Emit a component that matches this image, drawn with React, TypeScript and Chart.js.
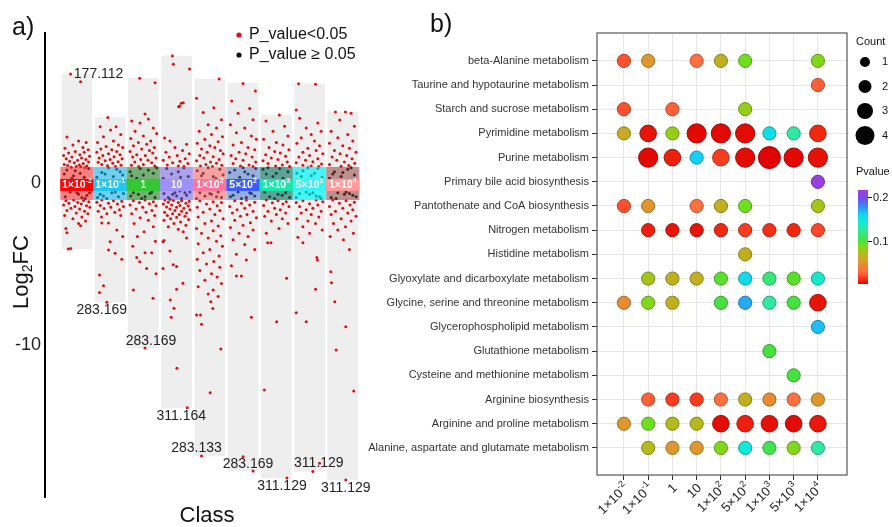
import React, { useEffect, useRef } from "react";
import { Chart, registerables } from "chart.js";

Chart.register(...registerables);

const FONT = "'Liberation Sans', Arial, Helvetica, sans-serif";

// ---------------- Panel a data ----------------
const classBase = ["1×10", "1×10", "1", "10", "1×10", "5×10", "1×10", "5×10", "1×10"];
const classSup = ["-2", "-1", "", "", "2", "2", "3", "3", "4"];
const yTicksA = [0, -10];
const bandOuter = [-1.05, 0.99];
const bandInner = [-0.49, 0.25];

// [jitter, log2FC] for P_value < 0.05
const cls1Red = [[-0.19,6.73],[0.11,6.25],[-0.30,2.84],[0.05,2.6],[0.28,2.5],[-0.12,2.35],[0.18,2.2],[-0.36,2.15],[0.34,2.05],[-0.05,1.95],[0.22,1.9],[-0.25,1.85],[0.09,1.75],[-0.40,1.7],[0.38,1.65],[-0.15,1.6],[0.14,1.55],[-0.32,1.5],[0.27,1.45],[0.02,1.4],[-0.22,1.35],[0.35,1.3],[-0.08,1.25],[0.19,1.2],[-0.38,1.15],[0.07,1.12],[-0.28,1.08],[0.30,1.05],[-0.02,1.02],[0.12,1.0],[-0.17,0.98],[0.24,0.96],
  [-0.10,-1.05],[0.20,-1.08],[-0.33,-1.1],[0.36,-1.15],[0.03,-1.2],[-0.24,-1.25],[0.13,-1.3],[-0.40,-1.35],[0.29,-1.4],[-0.06,-1.45],[0.39,-1.5],[-0.18,-1.55],[0.08,-1.6],[-0.30,-1.7],[0.23,-1.75],[-0.02,-1.85],[0.33,-1.9],[-0.37,-2.0],[0.15,-2.1],[-0.12,-2.2],[0.26,-2.35],[-0.33,-2.8],[-0.30,-3.07],[0.11,-2.63],[-0.26,-4.07],[-0.19,-4.04],[0.05,-2.5]];
const cls2Red = [[-0.07,4.05],[-0.30,3.48],[0.18,3.48],[0.01,3.27],[0.32,3.0],[-0.20,2.85],[0.10,2.6],[-0.38,2.5],[0.25,2.35],[-0.12,2.25],[0.38,2.2],[-0.28,2.1],[0.05,2.05],[0.20,1.95],[-0.40,1.9],[-0.05,1.8],[0.30,1.75],[-0.22,1.7],[0.12,1.62],[-0.33,1.55],[0.36,1.5],[0.0,1.45],[-0.15,1.38],[0.24,1.32],[-0.36,1.28],[0.08,1.22],[-0.25,1.15],[0.33,1.1],[-0.08,1.06],[0.16,1.02],
  [-0.25,-1.05],[0.10,-1.1],[0.35,-1.12],[-0.40,-1.18],[-0.05,-1.25],[0.22,-1.3],[-0.30,-1.38],[0.40,-1.45],[0.02,-1.5],[-0.18,-1.58],[0.28,-1.65],[-0.36,-1.75],[0.14,-1.8],[-0.10,-1.9],[0.32,-2.0],[-0.26,-2.1],[-0.25,-2.47],[-0.05,-2.47],[0.0,-3.62],[-0.05,-4.14],[0.15,-4.33],[0.35,-4.7],[-0.32,-5.68],[-0.20,-6.34],[-0.32,-6.75],[-0.10,-7.36],[0.20,-2.9],[0.38,-3.3]];
const cls3Red = [[-0.11,6.46],[0.35,6.19],[0.05,4.26],[-0.35,3.83],[-0.10,3.7],[0.15,3.95],[0.30,3.4],[-0.25,3.2],[0.40,3.05],[0.0,2.9],[-0.38,2.75],[0.22,2.6],[-0.15,2.5],[0.10,2.4],[-0.30,2.3],[0.33,2.2],[-0.05,2.1],[0.18,2.0],[-0.40,1.95],[0.28,1.85],[-0.20,1.75],[0.06,1.7],[-0.32,1.6],[0.38,1.55],[-0.08,1.45],[0.14,1.4],[-0.26,1.3],[0.25,1.25],[0.0,1.15],[-0.36,1.1],[0.34,1.05],[-0.14,1.02],
  [0.05,-1.05],[-0.30,-1.1],[0.30,-1.15],[-0.12,-1.2],[0.18,-1.28],[-0.40,-1.35],[0.38,-1.4],[-0.02,-1.5],[-0.22,-1.6],[0.26,-1.7],[0.08,-1.8],[-0.35,-1.9],[0.34,-2.0],[-0.10,-2.15],[0.15,-2.3],[-0.28,-2.5],[0.30,-2.7],[0.02,-3.0],[-0.18,-3.3],[0.36,-3.6],[-0.32,-3.9],[0.05,-4.3],[0.25,-4.3],[-0.11,-4.86],[0.10,-5.27],[-0.30,-6.6],[0.29,-7.12],[0.05,-10.19],[-0.20,-4.6],[0.38,-5.6]];
const cls4Red = [[-0.13,7.84],[0.39,7.04],[-0.10,7.33],[0.14,4.92],[0.09,4.75],[0.20,4.96],[0.06,4.71],[-0.36,2.78],[-0.20,2.6],[0.30,2.4],[-0.05,2.2],[0.18,2.0],[-0.32,1.9],[0.38,1.8],[0.02,1.7],[-0.22,1.6],[0.26,1.5],[-0.40,1.4],[0.10,1.35],[-0.12,1.25],[0.34,1.2],[-0.28,1.12],[0.05,1.05],[0.22,1.02],
  [-0.35,-1.05],[-0.10,-1.08],[0.15,-1.1],[0.38,-1.12],[-0.25,-1.18],[0.05,-1.2],[0.28,-1.25],[-0.40,-1.3],[-0.15,-1.35],[0.10,-1.38],[0.35,-1.42],[-0.30,-1.48],[0.0,-1.5],[0.22,-1.55],[-0.20,-1.6],[0.40,-1.65],[-0.05,-1.7],[0.15,-1.75],[-0.36,-1.8],[0.30,-1.85],[-0.12,-1.9],[0.08,-1.95],[-0.28,-2.0],[0.25,-2.05],[0.0,-2.12],[-0.18,-2.2],[0.36,-2.25],[-0.38,-2.3],[0.12,-2.4],[-0.08,-2.5],[0.28,-2.6],[-0.25,-2.7],[0.05,-2.85],[0.20,-3.0],[-0.41,-3.62],[-0.38,-3.55],[0.0,-5.16],[-0.10,-5.05],[-0.41,-5.27],[0.19,-6.19],[0.0,-6.56],[-0.19,-7.22],[-0.08,-7.73],[-0.16,-8.29],[0.01,-11.44],[0.32,-13.87],[0.30,-3.4],[-0.20,-4.2]];
const cls5Red = [[0.28,6.42],[-0.40,5.23],[0.12,4.65],[-0.20,4.36],[0.35,3.9],[-0.05,3.6],[0.20,3.4],[-0.32,3.2],[0.05,3.0],[0.38,2.85],[-0.15,2.7],[0.25,2.55],[-0.38,2.45],[0.0,2.3],[0.15,2.2],[-0.25,2.1],[0.32,2.0],[-0.08,1.9],[0.40,1.8],[-0.30,1.7],[0.10,1.62],[-0.18,1.55],[0.28,1.45],[-0.40,1.38],[0.02,1.3],[0.20,1.22],[-0.12,1.15],[0.36,1.1],[-0.28,1.05],[0.08,1.02],
  [-0.30,-1.1],[0.10,-1.15],[0.35,-1.2],[-0.10,-1.3],[0.22,-1.4],[-0.38,-1.5],[0.0,-1.6],[0.30,-1.7],[-0.20,-1.8],[0.15,-1.95],[-0.35,-2.1],[0.40,-2.2],[0.05,-2.35],[-0.15,-2.5],[0.25,-2.65],[-0.40,-2.8],[0.10,-2.95],[-0.25,-3.1],[0.33,-3.25],[-0.05,-3.4],[0.20,-3.6],[-0.35,-3.75],[0.38,-3.9],[0.0,-4.1],[-0.20,-4.3],[0.28,-4.5],[-0.38,-4.7],[0.12,-4.85],[-0.10,-5.0],[0.30,-5.2],[-0.30,-5.4],[0.05,-5.6],[0.22,-5.8],[-0.15,-6.0],[0.35,-6.2],[-0.35,-6.4],[0.10,-6.6],[-0.05,-6.85],[0.25,-7.0],[0.03,-7.33],[0.09,-7.74],[-0.40,-8.15],[-0.28,-8.15],[-0.25,-8.72],[0.33,-10.25],[0.01,-12.94],[-0.25,-16.85]];
const cls6Red = [[0.0,6.15],[0.37,5.68],[-0.34,5.06],[0.20,4.6],[-0.15,4.3],[0.30,3.9],[-0.38,3.6],[0.05,3.4],[-0.20,3.1],[0.25,2.9],[0.40,2.7],[-0.05,2.5],[-0.30,2.35],[0.15,2.2],[0.35,2.05],[-0.12,1.9],[0.08,1.8],[-0.36,1.7],[0.27,1.6],[-0.22,1.5],[0.0,1.4],[0.38,1.3],[-0.30,1.2],[0.18,1.12],[-0.08,1.05],[0.30,1.02],
  [0.10,-1.05],[-0.25,-1.1],[0.35,-1.18],[-0.05,-1.25],[0.20,-1.35],[-0.40,-1.45],[0.05,-1.55],[-0.18,-1.65],[0.30,-1.75],[-0.32,-1.85],[0.12,-1.95],[-0.08,-2.05],[0.40,-2.15],[-0.25,-2.3],[0.22,-2.45],[0.0,-2.6],[-0.38,-2.75],[0.30,-2.9],[-0.12,-3.1],[0.15,-3.3],[-0.30,-3.5],[0.05,-3.8],[0.35,-4.1],[-0.20,-4.4],[0.10,-4.75],[-0.20,-5.74],[-0.05,-5.74],[0.25,-8.29],[0.0,-16.9],[0.30,-17.78],[-0.35,-5.1]];
const cls7Red = [[0.09,4.2],[-0.31,3.83],[0.25,3.5],[-0.10,3.2],[0.35,2.9],[-0.38,2.7],[0.0,2.5],[0.20,2.35],[-0.22,2.2],[0.38,2.05],[-0.05,1.95],[0.12,1.85],[-0.32,1.75],[0.28,1.65],[-0.15,1.55],[0.05,1.45],[-0.40,1.38],[0.33,1.3],[-0.25,1.2],[0.18,1.12],[-0.02,1.05],[0.40,1.02],
  [-0.30,-1.05],[0.05,-1.1],[0.30,-1.15],[-0.12,-1.22],[0.20,-1.3],[-0.38,-1.38],[0.38,-1.45],[-0.05,-1.55],[0.12,-1.65],[-0.25,-1.75],[0.28,-1.85],[0.0,-1.95],[-0.35,-2.05],[0.18,-2.2],[-0.15,-2.35],[0.35,-2.5],[-0.26,-3.68],[-0.16,-3.68],[0.31,-5.88],[0.01,-8.56],[-0.36,-12.78],[0.32,-18.2],[0.08,-2.8],[-0.30,-3.1]];
const cls8Red = [[-0.33,6.13],[0.18,6.09],[-0.40,4.5],[-0.30,4.0],[0.25,3.7],[-0.10,3.4],[0.35,3.2],[0.05,3.0],[-0.25,2.8],[0.15,2.6],[-0.38,2.45],[0.30,2.3],[-0.05,2.15],[0.20,2.0],[-0.20,1.9],[0.40,1.8],[0.0,1.7],[-0.32,1.6],[0.25,1.5],[-0.12,1.4],[0.10,1.32],[-0.40,1.25],[0.36,1.18],[-0.20,1.1],[0.05,1.05],[0.28,1.02],
  [0.20,-1.05],[-0.20,-1.1],[0.40,-1.15],[-0.40,-1.2],[0.0,-1.28],[0.25,-1.35],[-0.30,-1.45],[0.10,-1.55],[-0.10,-1.65],[0.35,-1.75],[-0.25,-1.85],[0.05,-1.95],[0.28,-2.1],[-0.38,-2.2],[-0.05,-2.35],[0.18,-2.5],[-0.20,-2.7],[0.38,-2.9],[0.0,-3.1],[-0.35,-3.35],[-0.20,-3.68],[0.24,-4.75],[0.22,-4.6],[0.18,-6.56],[-0.40,-8.0],[-0.10,-8.56],[0.30,-17.3],[0.10,-17.8]];
const cls9Red = [[-0.22,4.38],[0.08,4.38],[0.25,4.3],[-0.09,3.89],[0.35,3.5],[-0.35,3.2],[0.15,3.0],[-0.15,2.8],[0.30,2.6],[-0.40,2.45],[0.0,2.3],[0.20,2.15],[-0.25,2.0],[0.40,1.9],[-0.08,1.8],[0.12,1.7],[-0.32,1.6],[0.28,1.5],[-0.18,1.4],[0.05,1.3],[0.36,1.22],[-0.40,1.15],[0.18,1.08],[-0.05,1.03],
  [-0.30,-1.05],[0.10,-1.1],[0.35,-1.18],[-0.10,-1.25],[0.22,-1.35],[-0.40,-1.45],[0.0,-1.55],[0.30,-1.65],[-0.22,-1.75],[0.15,-1.85],[-0.35,-1.95],[0.40,-2.05],[-0.05,-2.2],[0.25,-2.35],[-0.28,-2.5],[0.08,-2.7],[-0.15,-2.9],[0.32,-3.1],[-0.38,-3.3],[0.02,-3.5],[-0.36,-5.47],[-0.34,-6.15],[-0.24,-7.33],[-0.20,-10.3],[0.09,-8.87],[0.33,-12.84],[0.09,-18.33],[0.20,-4.1]];

// [jitter, log2FC] for P_value >= 0.05
const cls1Black = [[-0.3,0.8],[0.1,0.6],[0.35,0.9],[-0.1,0.45],[0.22,0.35],[-0.38,0.55],[0.0,-0.6],[0.3,-0.75],[-0.2,-0.55],[0.15,-0.9],[-0.35,-0.85],[0.38,-0.6],[-0.05,0.75],[0.25,-0.95],[-0.15,0.3],[0.05,-0.7]];
const cls2Black = [[0.2,0.85],[-0.25,0.65],[0.38,0.5],[-0.05,0.95],[0.1,0.4],[-0.4,0.35],[0.3,0.7],[-0.15,0.55],[0.05,-0.6],[-0.3,-0.7],[0.25,-0.85],[-0.1,-0.95],[0.4,-0.65],[-0.38,-0.9],[0.15,-0.55],[-0.2,-0.8]];
const cls3Black = [[-0.1,0.9],[0.3,0.6],[-0.35,0.45],[0.15,0.8],[-0.2,0.3],[0.4,0.95],[0.0,0.5],[-0.4,0.7],[0.25,-0.55],[-0.15,-0.7],[0.35,-0.9],[-0.3,-0.6],[0.05,-0.85],[0.2,-0.65],[-0.05,-0.95],[-0.38,-0.8]];
const cls4Black = [[0.05,0.7],[-0.3,0.9],[0.35,0.4],[-0.15,0.55],[0.22,0.95],[-0.4,0.3],[0.12,0.35],[-0.05,-0.6],[0.3,-0.75],[-0.25,-0.9],[0.4,-0.55],[-0.38,-0.65],[0.15,-0.95],[0.0,-0.8],[-0.12,-0.7],[0.25,-0.6],[-0.2,-1.0],[0.1,-0.5]];
const cls5Black = [[0.3,0.85],[-0.2,0.6],[0.1,0.4],[-0.38,0.75],[0.4,0.5],[-0.05,0.95],[0.18,0.3],[-0.3,-0.6],[0.05,-0.7],[0.35,-0.9],[-0.15,-0.8],[0.25,-0.55],[-0.4,-0.95],[0.0,-0.65],[-0.25,0.45],[0.2,-0.85]];
const cls6Black = [[-0.25,0.8],[0.15,0.55],[0.38,0.9],[-0.1,0.35],[0.3,0.45],[-0.4,0.65],[0.0,0.95],[0.2,-0.6],[-0.3,-0.75],[0.1,-0.9],[-0.15,-0.55],[0.35,-0.8],[-0.05,-0.95],[0.25,-0.65],[-0.38,-0.85],[0.05,0.7]];
const cls7Black = [[0.1,0.9],[-0.3,0.55],[0.35,0.7],[-0.1,0.4],[0.2,0.3],[-0.4,0.85],[0.0,0.6],[0.28,-0.6],[-0.2,-0.85],[0.05,-0.7],[-0.35,-0.55],[0.4,-0.9],[-0.05,-0.95],[0.18,-0.75],[-0.25,0.95],[0.3,-0.5]];
const cls8Black = [[-0.2,0.75],[0.25,0.9],[0.05,0.45],[-0.38,0.6],[0.38,0.35],[-0.05,0.95],[0.15,0.6],[-0.3,-0.65],[0.2,-0.8],[-0.1,-0.55],[0.35,-0.95],[0.0,-0.7],[-0.4,-0.9],[0.1,-0.6],[-0.25,0.4],[0.3,-0.85]];
const cls9Black = [[0.15,0.85],[-0.25,0.7],[0.35,0.5],[-0.05,0.4],[0.25,0.95],[-0.4,0.3],[0.0,0.65],[-0.15,-0.6],[0.3,-0.75],[-0.35,-0.9],[0.1,-0.55],[0.4,-0.85],[-0.2,-0.95],[0.05,-0.7],[-0.3,0.55],[0.2,-0.65]];

const classRed = [cls1Red, cls2Red, cls3Red, cls4Red, cls5Red, cls6Red, cls7Red, cls8Red, cls9Red];
const classBlack = [cls1Black, cls2Black, cls3Black, cls4Black, cls5Black, cls6Black, cls7Black, cls8Black, cls9Black];

const extremeLabels = ["177.112", "283.169", "283.169", "311.164", "283.133", "283.169", "311.129", "311.129", "311.129"];
const labelAtMax = [true, false, false, false, false, false, false, false, false];

// ---------------- Panel b data ----------------
const pathways = [
  "beta-Alanine metabolism",
  "Taurine and hypotaurine metabolism",
  "Starch and sucrose metabolism",
  "Pyrimidine metabolism",
  "Purine metabolism",
  "Primary bile acid biosynthesis",
  "Pantothenate and CoA biosynthesis",
  "Nitrogen metabolism",
  "Histidine metabolism",
  "Glyoxylate and dicarboxylate metabolism",
  "Glycine, serine and threonine metabolism",
  "Glycerophospholipid metabolism",
  "Glutathione metabolism",
  "Cysteine and methionine metabolism",
  "Arginine biosynthesis",
  "Arginine and proline metabolism",
  "Alanine, aspartate and glutamate metabolism",
];
const countGrid = [
  [1, 1, 0, 1, 1, 1, 0, 0, 1],
  [0, 0, 0, 0, 0, 0, 0, 0, 1],
  [1, 0, 1, 0, 0, 1, 0, 0, 0],
  [1, 2, 1, 3, 3, 3, 1, 1, 2],
  [0, 3, 2, 1, 2, 3, 4, 3, 3],
  [0, 0, 0, 0, 0, 0, 0, 0, 1],
  [1, 1, 0, 1, 1, 1, 0, 0, 1],
  [0, 1, 1, 1, 1, 1, 1, 1, 1],
  [0, 0, 0, 0, 0, 1, 0, 0, 0],
  [0, 1, 1, 1, 1, 1, 1, 1, 1],
  [1, 1, 1, 0, 1, 1, 1, 1, 2],
  [0, 0, 0, 0, 0, 0, 0, 0, 1],
  [0, 0, 0, 0, 0, 0, 1, 0, 0],
  [0, 0, 0, 0, 0, 0, 0, 1, 0],
  [0, 1, 1, 1, 1, 1, 1, 1, 1],
  [1, 1, 1, 1, 2, 2, 2, 2, 2],
  [0, 1, 1, 1, 1, 1, 1, 1, 1],
];
const N = null;
const pvalueGrid = [
  [0.02, 0.05, N, 0.03, 0.065, 0.09, N, N, 0.085],
  [N, N, N, N, N, N, N, N, 0.025],
  [0.02, N, 0.025, N, N, 0.08, N, N, N],
  [0.06, 0.005, 0.08, 0.002, 0.002, 0.003, 0.152, 0.125, 0.01],
  [N, 0.002, 0.008, 0.16, 0.015, 0.003, 0.001, 0.002, 0.004],
  [N, N, N, N, N, N, N, N, 0.21],
  [0.02, 0.05, N, 0.03, 0.065, 0.09, N, N, 0.075],
  [N, 0.008, 0.005, 0.005, 0.01, 0.015, 0.012, 0.01, 0.018],
  [N, N, N, N, N, 0.065, N, N, N],
  [N, 0.075, 0.065, 0.065, 0.095, 0.155, 0.115, 0.095, 0.14],
  [0.045, 0.085, 0.065, N, 0.1, 0.17, 0.125, 0.1, 0.005],
  [N, N, N, N, N, N, N, N, 0.165],
  [N, N, N, N, N, N, 0.1, N, N],
  [N, N, N, N, N, N, N, 0.1, N],
  [N, 0.025, 0.015, 0.015, 0.03, 0.065, 0.045, 0.03, 0.05],
  [0.05, 0.09, 0.07, 0.07, 0.003, 0.008, 0.004, 0.003, 0.006],
  [N, 0.07, 0.05, 0.05, 0.085, 0.145, 0.105, 0.085, 0.125],
];
const countLegend = [1, 2, 3, 4];
const pTicks = [0.2, 0.1];
const pRange = [0.001, 0.215];

// ---------------- styles ----------------
const outerColors = ["rgba(255,40,40,0.55)", "rgba(20,185,240,0.58)", "rgba(20,120,20,0.55)", "rgba(120,100,230,0.55)", "rgba(255,100,100,0.55)", "rgba(60,110,200,0.5)", "rgba(0,110,90,0.6)", "rgba(0,245,245,0.7)", "rgba(140,50,50,0.5)"];
const innerColors = ["#ff0000", "#1ec8f5", "#33c833", "#9f8ff8", "#ff7299", "#3a5cff", "#19e6ac", "#33f5f5", "#ff9a9a"];
const labelOffsets = [[28, 0], [-5, 8], [6, -7], [-6, 8], [-5, -8], [-5, -7], [-5, 8], [6, -8], [0, 8]];
const countRadius = [0, 6.6, 8.3, 9.6, 11];
const legendRadius = [5, 6.5, 8, 9.5];
const pStops: [number, number[]][] = [
  [0, [222, 0, 0]], [0.01, [240, 40, 16]], [0.02, [255, 80, 48]], [0.03, [255, 112, 64]],
  [0.045, [232, 138, 48]], [0.055, [212, 164, 40]], [0.065, [192, 176, 32]], [0.08, [150, 205, 24]],
  [0.09, [110, 222, 30]], [0.1, [70, 224, 64]], [0.125, [48, 232, 160]], [0.145, [16, 232, 216]],
  [0.16, [20, 210, 245]], [0.175, [48, 150, 240]], [0.195, [110, 80, 230]], [0.215, [165, 60, 225]],
];

function pRGB(p: number): number[] {
  if (p <= pStops[0][0]) return pStops[0][1];
  for (let i = 1; i < pStops.length; i++) {
    if (p <= pStops[i][0]) {
      const [p0, c0] = pStops[i - 1];
      const [p1, c1] = pStops[i];
      const t = (p - p0) / (p1 - p0);
      return c0.map((v, k) => v + (c1[k] - v) * t);
    }
  }
  return pStops[pStops.length - 1][1];
}
const rgb = (c: number[], k = 1) => `rgb(${Math.round(c[0] * k)},${Math.round(c[1] * k)},${Math.round(c[2] * k)})`;

function drawSupText(ctx: CanvasRenderingContext2D, base: string, sup: string, x: number, y: number, size: number, supSize: number, weight: string, align: "center" | "right") {
  ctx.font = `${weight} ${size}px ${FONT}`;
  const wb = ctx.measureText(base).width;
  ctx.font = `${weight} ${supSize}px ${FONT}`;
  const ws = sup ? ctx.measureText(sup).width : 0;
  const total = wb + ws;
  const start = align === "center" ? x - total / 2 : x - total;
  ctx.textAlign = "left";
  ctx.textBaseline = "middle";
  ctx.font = `${weight} ${size}px ${FONT}`;
  ctx.fillText(base, start, y);
  if (sup) {
    ctx.font = `${weight} ${supSize}px ${FONT}`;
    ctx.fillText(sup, start + wb, y - size * 0.38);
  }
}

export default function App() {
  const refA = useRef<HTMLCanvasElement>(null);
  const refB = useRef<HTMLCanvasElement>(null);

  useEffect(() => {
    Chart.defaults.font.family = FONT;

    const redData = classRed.flatMap((pts, i) => pts.map(([j, v]) => ({ x: i + 1 + j, y: v })));
    const blackData = classBlack.flatMap((pts, i) => pts.map(([j, v]) => ({ x: i + 1 + j, y: v })));
    const rangeData = classRed.map((pts, i) => {
      const all = [...pts, ...classBlack[i]].map((p) => p[1]);
      return { x: i + 1, y: [Math.min(...all), Math.max(...all)] };
    });

    const panelAPlugin = {
      id: "panelA",
      afterDatasetsDraw(chart: any) {
        const { ctx, scales } = chart;
        const x = scales.x, y = scales.y;
        const half = (x.getPixelForValue(2) - x.getPixelForValue(1)) / 2;
        ctx.save();
        classBase.forEach((base, i) => {
          const xc = x.getPixelForValue(i + 1);
          const oT = y.getPixelForValue(bandOuter[1]);
          const oB = y.getPixelForValue(bandOuter[0]);
          ctx.fillStyle = outerColors[i];
          ctx.fillRect(xc - half, oT, half * 2, oB - oT);
          const iT = y.getPixelForValue(bandInner[1]);
          const iB = y.getPixelForValue(bandInner[0]);
          ctx.fillStyle = innerColors[i];
          ctx.fillRect(xc - half, iT, half * 2, iB - iT);
          ctx.fillStyle = "#ffffff";
          const sz = classSup[i] ? 10.5 : 10;
          drawSupText(ctx, base, classSup[i], xc, (iT + iB) / 2 + 0.5, sz, 7, "bold", "center");
        });
        // extreme value labels
        ctx.fillStyle = "#222";
        ctx.font = `14px ${FONT}`;
        ctx.textAlign = "center";
        ctx.textBaseline = "middle";
        classRed.forEach((pts, i) => {
          let best = pts[0];
          pts.forEach((p) => {
            if (labelAtMax[i] ? p[1] > best[1] : p[1] < best[1]) best = p;
          });
          const px = x.getPixelForValue(i + 1 + best[0]) + labelOffsets[i][0];
          const py = y.getPixelForValue(best[1]) + labelOffsets[i][1];
          ctx.fillText(extremeLabels[i], px, py);
        });
        // legend
        ctx.beginPath(); ctx.fillStyle = "#dd1010"; ctx.arc(239, 35, 2.6, 0, Math.PI * 2); ctx.fill();
        ctx.beginPath(); ctx.fillStyle = "#111"; ctx.arc(239, 55, 2.6, 0, Math.PI * 2); ctx.fill();
        ctx.fillStyle = "#111";
        ctx.font = `16px ${FONT}`;
        ctx.textAlign = "left";
        ctx.fillText("P_value<0.05", 249, 35);
        ctx.fillText("P_value \u2265 0.05", 249, 55);
        // panel letter
        ctx.textBaseline = "alphabetic";
        ctx.font = `25px ${FONT}`;
        ctx.fillText("a)", 12, 35);
        // axis titles
        ctx.textAlign = "center";
        ctx.textBaseline = "middle";
        ctx.font = `22px ${FONT}`;
        ctx.fillText("Class", 207, 516);
        ctx.save();
        ctx.translate(22, 272);
        ctx.rotate(-Math.PI / 2);
        ctx.font = `22px ${FONT}`;
        const w1 = ctx.measureText("Log").width;
        const w3 = ctx.measureText("FC").width;
        ctx.font = `14px ${FONT}`;
        const w2 = ctx.measureText("2").width;
        const st = -(w1 + w2 + w3) / 2;
        ctx.textAlign = "left";
        ctx.font = `22px ${FONT}`;
        ctx.fillText("Log", st, 0);
        ctx.font = `14px ${FONT}`;
        ctx.fillText("2", st + w1, 6);
        ctx.font = `22px ${FONT}`;
        ctx.fillText("FC", st + w1 + w2, 0);
        ctx.restore();
        ctx.restore();
      },
    };

    const chartA = new Chart(refA.current as HTMLCanvasElement, {
      type: "scatter",
      data: {
        datasets: [
          { type: "scatter", data: redData, backgroundColor: "#dd1010", borderWidth: 0, pointRadius: 1.5, order: 0 } as any,
          { type: "scatter", data: blackData, backgroundColor: "#111111", borderWidth: 0, pointRadius: 1.5, order: 1 } as any,
          { type: "bar", data: rangeData, backgroundColor: "#eeeeee", borderWidth: 0, barThickness: 30, order: 3 } as any,
        ],
      },
      plugins: [panelAPlugin],
      options: {
        responsive: false,
        animation: false,
        devicePixelRatio: 1,
        layout: { padding: { left: 0, top: 33, right: 516, bottom: 30 } },
        plugins: { legend: { display: false }, tooltip: { enabled: false } },
        scales: {
          x: { type: "linear", min: 0.04, max: 10, display: false, offset: false, grid: { offset: false } },
          y: {
            type: "linear",
            min: -19.38,
            max: 9.26,
            afterFit: (s: any) => { s.width = 45; },
            afterBuildTicks: (s: any) => { s.ticks = yTicksA.map((v) => ({ value: v })); },
            grid: { display: false, drawTicks: false },
            border: { display: true, color: "#000", width: 2 },
            ticks: { font: { size: 18 }, color: "#222", padding: 4, callback: (v: any) => String(v) },
          },
        },
      } as any,
    });

    // ---------- panel b ----------
    const bubbles: { x: number; y: number }[] = [];
    const radii: number[] = [];
    const fills: string[] = [];
    const borders: string[] = [];
    countGrid.forEach((row, r) => {
      row.forEach((c, k) => {
        const p = pvalueGrid[r][k];
        if (c > 0 && p !== null) {
          bubbles.push({ x: k, y: r });
          radii.push(countRadius[c]);
          const col = pRGB(p);
          fills.push(rgb(col));
          borders.push(rgb(col, 0.72));
        }
      });
    });

    const panelBPlugin = {
      id: "panelB",
      afterDraw(chart: any) {
        const { ctx, chartArea, scales } = chart;
        const x = scales.x;
        ctx.save();
        ctx.strokeStyle = "#555";
        ctx.lineWidth = 1.2;
        ctx.strokeRect(chartArea.left, chartArea.top, chartArea.right - chartArea.left, chartArea.bottom - chartArea.top);
        // rotated x labels
        ctx.fillStyle = "#222";
        classBase.forEach((base, i) => {
          const px = x.getPixelForValue(i);
          ctx.save();
          ctx.translate(px + 3, chartArea.bottom + 11);
          ctx.rotate(-Math.PI / 4);
          drawSupText(ctx, base, classSup[i], 0, 0, 13, 9, "normal", "right");
          ctx.restore();
        });
        // Count legend
        ctx.fillStyle = "#111";
        ctx.font = `11px ${FONT}`;
        ctx.textAlign = "left";
        ctx.textBaseline = "middle";
        ctx.fillText("Count", 856, 42);
        countLegend.forEach((c, i) => {
          const cy = 62 + i * 24.5;
          ctx.beginPath();
          ctx.fillStyle = "#000";
          ctx.arc(865, cy, legendRadius[i], 0, Math.PI * 2);
          ctx.fill();
          ctx.fillStyle = "#111";
          ctx.fillText(String(c), 882, cy);
        });
        // Pvalue colorbar
        ctx.fillText("Pvalue", 856, 172);
        const barTop = 190, barBottom = 284, bx = 858, bw = 10;
        const pToY = (p: number) => barTop + ((pRange[1] - p) / (pRange[1] - pRange[0])) * (barBottom - barTop);
        const grad = ctx.createLinearGradient(0, barTop, 0, barBottom);
        pStops.forEach(([p, c]) => {
          if (p >= pRange[0] && p <= pRange[1]) grad.addColorStop((pToY(p) - barTop) / (barBottom - barTop), rgb(c));
        });
        grad.addColorStop(1, rgb(pRGB(pRange[0])));
        ctx.fillStyle = grad;
        ctx.fillRect(bx, barTop, bw, barBottom - barTop);
        ctx.strokeStyle = "#111";
        ctx.lineWidth = 1;
        ctx.fillStyle = "#111";
        pTicks.forEach((t) => {
          const ty = Math.round(pToY(t)) + 0.5;
          ctx.beginPath();
          ctx.moveTo(bx + bw, ty);
          ctx.lineTo(bx + bw + 4, ty);
          ctx.stroke();
          ctx.fillText(String(t), bx + bw + 5, ty);
        });
        // panel letter
        ctx.textBaseline = "alphabetic";
        ctx.font = `25px ${FONT}`;
        ctx.fillStyle = "#111";
        ctx.fillText("b)", 430, 32);
        ctx.restore();
      },
    };

    const chartB = new Chart(refB.current as HTMLCanvasElement, {
      type: "scatter",
      data: {
        datasets: [
          {
            data: bubbles,
            pointRadius: radii,
            pointHoverRadius: radii,
            pointBackgroundColor: fills,
            pointBorderColor: borders,
            pointBorderWidth: 1,
          } as any,
        ],
      },
      plugins: [panelBPlugin],
      options: {
        responsive: false,
        animation: false,
        devicePixelRatio: 1,
        layout: { padding: { left: 0, top: 33, right: 45, bottom: 0 } },
        plugins: { legend: { display: false }, tooltip: { enabled: false } },
        scales: {
          x: {
            type: "linear",
            min: -1.11,
            max: 9.2,
            afterBuildTicks: (s: any) => { s.ticks = classBase.map((_, i) => ({ value: i })); },
            afterFit: (s: any) => { s.height = 52; },
            grid: { color: "#e6e6e6", tickColor: "#333", tickLength: 5, drawTicks: true },
            border: { display: false },
            ticks: { display: false, autoSkip: false },
          },
          y: {
            type: "linear",
            reverse: true,
            min: -1.15,
            max: 17.12,
            afterBuildTicks: (s: any) => { s.ticks = pathways.map((_, i) => ({ value: i })); },
            afterFit: (s: any) => { s.width = 597; },
            grid: { color: "#e6e6e6", tickColor: "#333", tickLength: 5, drawTicks: true },
            border: { display: false },
            ticks: { autoSkip: false, font: { size: 11 }, color: "#333", padding: 3, callback: (v: any) => pathways[v] },
          },
        },
      } as any,
    });

    return () => {
      chartA.destroy();
      chartB.destroy();
    };
  }, []);

  return (
    <div style={{ position: "absolute", left: 0, top: 0, width: 892, height: 527, background: "#fff" }}>
      <canvas ref={refA} width={892} height={527} style={{ position: "absolute", left: 0, top: 0 }} />
      <canvas ref={refB} width={892} height={527} style={{ position: "absolute", left: 0, top: 0 }} />
    </div>
  );
}
